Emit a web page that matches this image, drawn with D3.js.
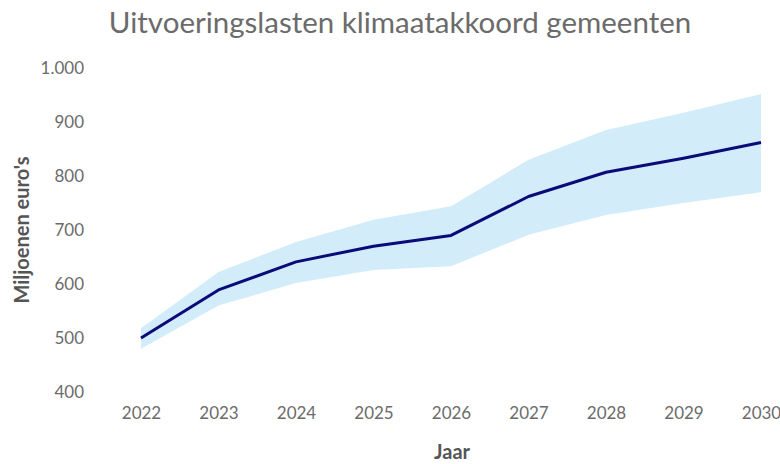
<!DOCTYPE html>
<html>
<head>
<meta charset="utf-8">
<script src="https://cdn.jsdelivr.net/npm/d3@7"></script>
<style>
  body { margin: 0; background: #fff; }
  text { font-family: "Lato", "Open Sans", sans-serif; }
  .axis path, .axis line { display: none; }
  .axis text { fill: #6b6b6b; font-size: 17px; }
</style>
</head>
<body>
<div id="chart"></div>
<script>
const years = [2022, 2023, 2024, 2025, 2026, 2027, 2028, 2029, 2030];
const middle = [500, 589, 641, 670, 690, 762, 807, 833, 862];
const lower = [480, 560, 602, 626, 633, 691, 728, 750, 770];
const upper = [518, 622, 678, 719, 744, 830, 885, 917, 952];
const yTicks = [400, 500, 600, 700, 800, 900, 1000];

const totalWidth = 780, totalHeight = 464;
const svg = d3.select("#chart").append("svg")
  .attr("width", totalWidth)
  .attr("height", totalHeight);

const x = d3.scaleLinear().domain([2022, 2030]).range([141, 761]);
const y = d3.scaleLinear().domain([400, 1000]).range([392, 68]);

const data = years.map((yr, i) => ({ year: yr, mid: middle[i], lo: lower[i], hi: upper[i] }));

// title
svg.append("text")
  .attr("x", 400)
  .attr("y", 33)
  .attr("text-anchor", "middle")
  .style("font-size", "29.5px")
  .style("fill", "#6b6b6b")
  .text("Uitvoeringslasten klimaatakkoord gemeenten");

// band
svg.append("path")
  .datum(data)
  .attr("fill", "#d3ecfa")
  .attr("d", d3.area()
    .x(d => x(d.year))
    .y0(d => y(d.lo))
    .y1(d => y(d.hi)));

// line
svg.append("path")
  .datum(data)
  .attr("fill", "none")
  .attr("stroke", "#0a0a78")
  .attr("stroke-width", 3)
  .attr("stroke-linejoin", "round")
  .attr("d", d3.line()
    .x(d => x(d.year))
    .y(d => y(d.mid)));

// y axis
svg.append("g")
  .attr("class", "axis")
  .attr("transform", "translate(84,0)")
  .style("font-size", "17.5px")
  .call(d3.axisLeft(y).tickValues(yTicks).tickSize(0).tickPadding(0)
    .tickFormat(d => d3.format(",")(d).replace(",", ".")));

// x axis
svg.append("g")
  .attr("class", "axis")
  .attr("transform", "translate(0,407)")
  .call(d3.axisBottom(x).tickValues(years).tickSize(0).tickPadding(0)
    .tickFormat(d3.format("d")));

// axis titles
svg.append("text")
  .attr("transform", "translate(29,230) rotate(-90)")
  .attr("text-anchor", "middle")
  .style("font-size", "20px")
  .style("font-weight", "bold")
  .style("fill", "#555")
  .text("Miljoenen euro's");

svg.append("text")
  .attr("x", 452)
  .attr("y", 459)
  .attr("text-anchor", "middle")
  .style("font-size", "20px")
  .style("font-weight", "bold")
  .style("fill", "#555")
  .text("Jaar");
</script>
</body>
</html>
